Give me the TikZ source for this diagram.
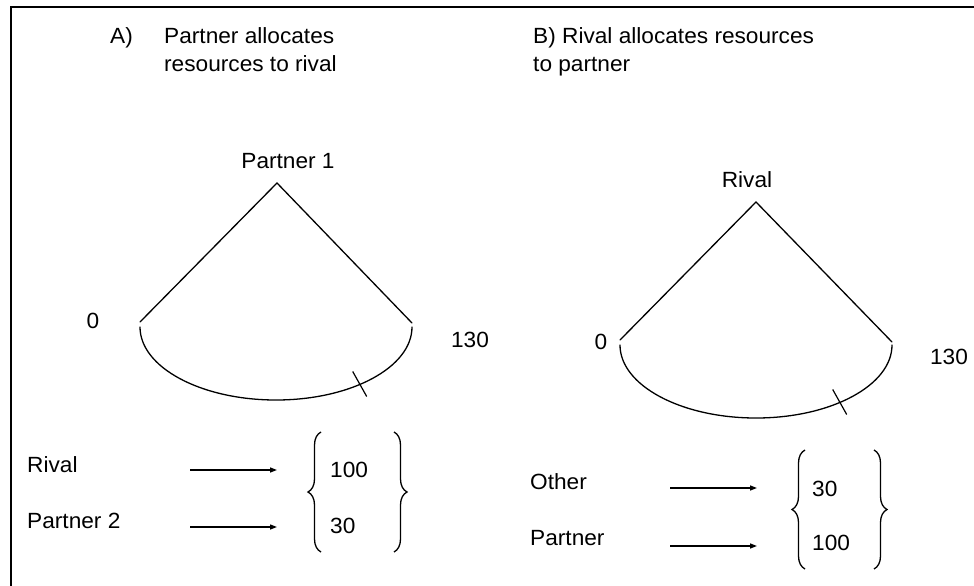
\documentclass[tikz,border=0pt]{standalone}
\usepackage{fontspec}
\setmainfont{Liberation Sans}[FakeStretch=1.03]
\usetikzlibrary{arrows.meta,decorations.pathreplacing,calc}
\begin{document}
\begin{tikzpicture}[x=1pt,y=-1pt,
  lbl/.style={inner sep=0pt,font=\fontsize{22}{26}\selectfont},
  lw/.style={lbl,anchor=base west},
  edge/.style={line width=1.3pt,line cap=round},
  pointer/.style={line width=1.3pt,-{Triangle[length=7pt,width=5pt]}},
  curly/.style={line width=1.3pt,decorate,decoration={brace,amplitude=13pt}},
  tick/.style={line width=1.2pt}]
\useasboundingbox (0,0) rectangle (974,586);
% frame: top and left edges only
\draw[line width=2.5pt] (11,586) -- (11,7) -- (974,7);

% ---------- panel A ----------
\node[lw] (tA)  at (110,44) {A)};
\node[lw] (tA1) at (164,44) {Partner allocates};
\node[lw] (tA2) at (164,71) {resources to rival};

\node[lbl] (p1) at (288,161) {Partner 1};
\coordinate (apexA) at (277,183);
\coordinate (lA) at (140,322);
\coordinate (rA) at (412,323);
\draw[edge] (lA) -- (apexA) -- (rA);
\draw[edge] (140,327) .. controls (140,367.3) and (200.9,400) .. (276,400)
                      .. controls (351.1,400) and (412,367.3) .. (412,327);
\coordinate (cutA) at (359.7,384.5);
\draw[tick] ($(cutA)+(-7,-13)$) -- ($(cutA)+(7,12)$);
\node[lbl] (zA) at (93,321) {0};
\node[lbl] (mA) at (470,340) {130};

\node[lw] (rivA) at (27,472) {Rival};
\node[lw] (p2A)  at (27,528) {Partner 2};
\coordinate (a1s) at (190,470); \coordinate (a1e) at (277,470);
\coordinate (a2s) at (190,527); \coordinate (a2e) at (277,527);
\draw[pointer] (a1s) -- (a1e);
\draw[pointer] (a2s) -- (a2e);
\draw[curly] (321,552) -- (321,432);
\draw[curly] (394,432) -- (394,552);
\node[lw] (vA1) at (330,477) {100};
\node[lw] (vA2) at (330,533) {30};

% ---------- panel B ----------
\node[lw] (tB1) at (533,44) {B) Rival allocates resources};
\node[lw] (tB2) at (533,71) {to partner};

\node[lbl] (rv) at (747,180) {Rival};
\coordinate (apexB) at (756,202);
\coordinate (lB) at (620,340);
\coordinate (rB) at (892,342);
\draw[edge] (lB) -- (apexB) -- (rB);
\draw[edge] (620,345) .. controls (620,385.3) and (680.9,418) .. (756,418)
                      .. controls (831.1,418) and (892,385.3) .. (892,345);
\coordinate (cutB) at (839.7,402.5);
\draw[tick] ($(cutB)+(-7,-13)$) -- ($(cutB)+(7,12)$);
\node[lbl] (zB) at (601,342) {0};
\node[lbl] (mB) at (949,357) {130};

\node[lw] (othB) at (530,489) {Other};
\node[lw] (parB) at (530,545) {Partner};
\coordinate (b1s) at (670,488); \coordinate (b1e) at (757,488);
\coordinate (b2s) at (670,546); \coordinate (b2e) at (757,546);
\draw[pointer] (b1s) -- (b1e);
\draw[pointer] (b2s) -- (b2e);
\draw[curly] (805,569) -- (805,450);
\draw[curly] (874,450) -- (874,569);
\node[lw] (vB1) at (812,496) {30};
\node[lw] (vB2) at (812,550) {100};
\end{tikzpicture}
\end{document}
